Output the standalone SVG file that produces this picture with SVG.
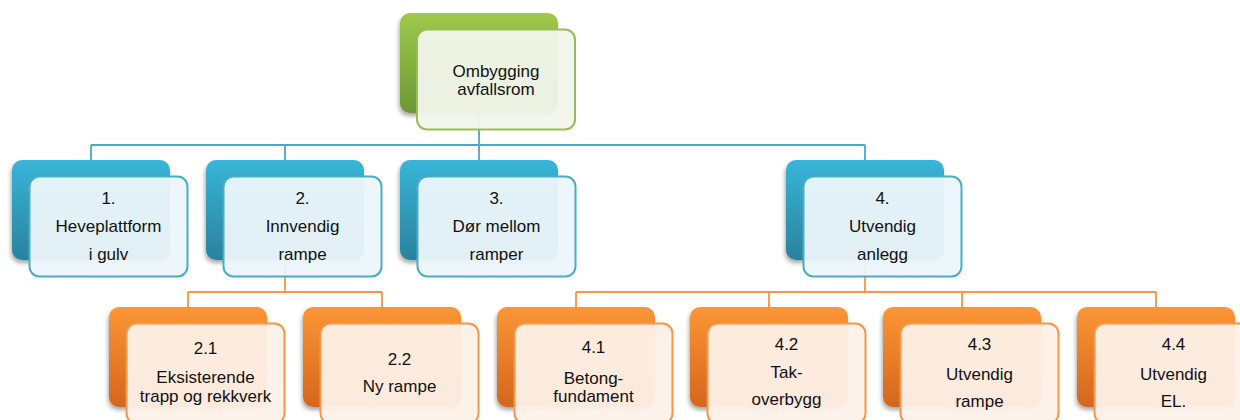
<svg xmlns="http://www.w3.org/2000/svg" width="1240" height="420" viewBox="0 0 1240 420">
<defs>
<linearGradient id="gG" x1="0" y1="0" x2="0" y2="1"><stop offset="0" stop-color="#9ec94c"/><stop offset="1" stop-color="#6c9733"/></linearGradient>
<linearGradient id="gB" x1="0" y1="0" x2="0" y2="1"><stop offset="0" stop-color="#38b5d8"/><stop offset="1" stop-color="#2a829d"/></linearGradient>
<linearGradient id="gO" x1="0" y1="0" x2="0" y2="1"><stop offset="0" stop-color="#fc9636"/><stop offset="1" stop-color="#d4661d"/></linearGradient>
<filter id="sh" x="-10%" y="-10%" width="125%" height="130%"><feDropShadow dx="-1" dy="3" stdDeviation="2.2" flood-color="#000" flood-opacity="0.35"/></filter>
</defs>
<style>
.bk{filter:url(#sh)}
.fg{fill:#f2f6ec;fill-opacity:0.95;stroke:#9bbb59;stroke-width:2}
.fb{fill:#ecf6fa;fill-opacity:0.95;stroke:#4bacc6;stroke-width:2}
.fo{fill:#fdf1e8;fill-opacity:0.95;stroke:#f79646;stroke-width:2}
.cb{fill:none;stroke:#4aa9c7;stroke-width:1.8}
.co{fill:none;stroke:#f79646;stroke-width:1.8}
text{font-family:"Liberation Sans",Arial,sans-serif;font-size:17px;fill:#111;text-anchor:middle}
</style>
<rect width="1240" height="420" fill="#fff"/>
<g id="connectors">
<path class="cb" d="M479 113V145M91 145H865M91 145V160M285 145V160M479 145V160M865 145V160"/>
<path class="co" d="M285 260V292M188 292H382M188 292V307M382 292V307"/>
<path class="co" d="M865 260V292M576 292H1156M576 292V307M769 292V307M962 292V307M1156 292V307"/>
</g>
<g id="n0"><rect class="bk" x="400" y="13" width="158" height="100" rx="10" fill="url(#gG)"/><rect class="fg" x="417" y="29.5" width="158" height="100" rx="10"/><text x="496" y="77">Ombygging</text><text x="496" y="95">avfallsrom</text></g>
<g id="n1"><rect class="bk" x="12" y="160" width="158" height="100" rx="10" fill="url(#gB)"/><rect class="fb" x="29.5" y="176.5" width="158" height="100" rx="10"/><text x="108.5" y="204">1.</text><text x="108.5" y="232">Heveplattform</text><text x="108.5" y="260">i gulv</text></g>
<g id="n2"><rect class="bk" x="206" y="160" width="158" height="100" rx="10" fill="url(#gB)"/><rect class="fb" x="223.5" y="176.5" width="158" height="100" rx="10"/><text x="302.5" y="204">2.</text><text x="302.5" y="232">Innvendig</text><text x="302.5" y="260">rampe</text></g>
<g id="n3"><rect class="bk" x="400" y="160" width="158" height="100" rx="10" fill="url(#gB)"/><rect class="fb" x="417.5" y="176.5" width="158" height="100" rx="10"/><text x="496.5" y="204">3.</text><text x="496.5" y="232">Dør mellom</text><text x="496.5" y="260">ramper</text></g>
<g id="n4"><rect class="bk" x="786" y="160" width="158" height="100" rx="10" fill="url(#gB)"/><rect class="fb" x="803.5" y="176.5" width="158" height="100" rx="10"/><text x="882.5" y="204">4.</text><text x="882.5" y="232">Utvendig</text><text x="882.5" y="260">anlegg</text></g>
<g id="n21"><rect class="bk" x="109" y="307" width="158" height="100" rx="10" fill="url(#gO)"/><rect class="fo" x="126.5" y="323.5" width="158" height="100" rx="10"/><text x="205.5" y="354">2.1</text><text x="205.5" y="383">Eksisterende</text><text x="205.5" y="402">trapp og rekkverk</text></g>
<g id="n22"><rect class="bk" x="303" y="307" width="158" height="100" rx="10" fill="url(#gO)"/><rect class="fo" x="320.5" y="323.5" width="158" height="100" rx="10"/><text x="399.5" y="365">2.2</text><text x="399.5" y="392">Ny rampe</text></g>
<g id="n41"><rect class="bk" x="497" y="307" width="158" height="100" rx="10" fill="url(#gO)"/><rect class="fo" x="514.5" y="323.5" width="158" height="100" rx="10"/><text x="593.5" y="353">4.1</text><text x="593.5" y="384">Betong-</text><text x="593.5" y="402">fundament</text></g>
<g id="n42"><rect class="bk" x="690" y="307" width="158" height="100" rx="10" fill="url(#gO)"/><rect class="fo" x="707.5" y="323.5" width="158" height="100" rx="10"/><text x="786.5" y="350">4.2</text><text x="786.5" y="378">Tak-</text><text x="786.5" y="405">overbygg</text></g>
<g id="n43"><rect class="bk" x="883" y="307" width="158" height="100" rx="10" fill="url(#gO)"/><rect class="fo" x="900.5" y="323.5" width="158" height="100" rx="10"/><text x="979.5" y="350">4.3</text><text x="979.5" y="380">Utvendig</text><text x="979.5" y="407">rampe</text></g>
<g id="n44"><rect class="bk" x="1077" y="307" width="158" height="100" rx="10" fill="url(#gO)"/><rect class="fo" x="1094.5" y="323.5" width="158" height="100" rx="10"/><text x="1173.5" y="350">4.4</text><text x="1173.5" y="380">Utvendig</text><text x="1173.5" y="407">EL.</text></g>
</svg>
